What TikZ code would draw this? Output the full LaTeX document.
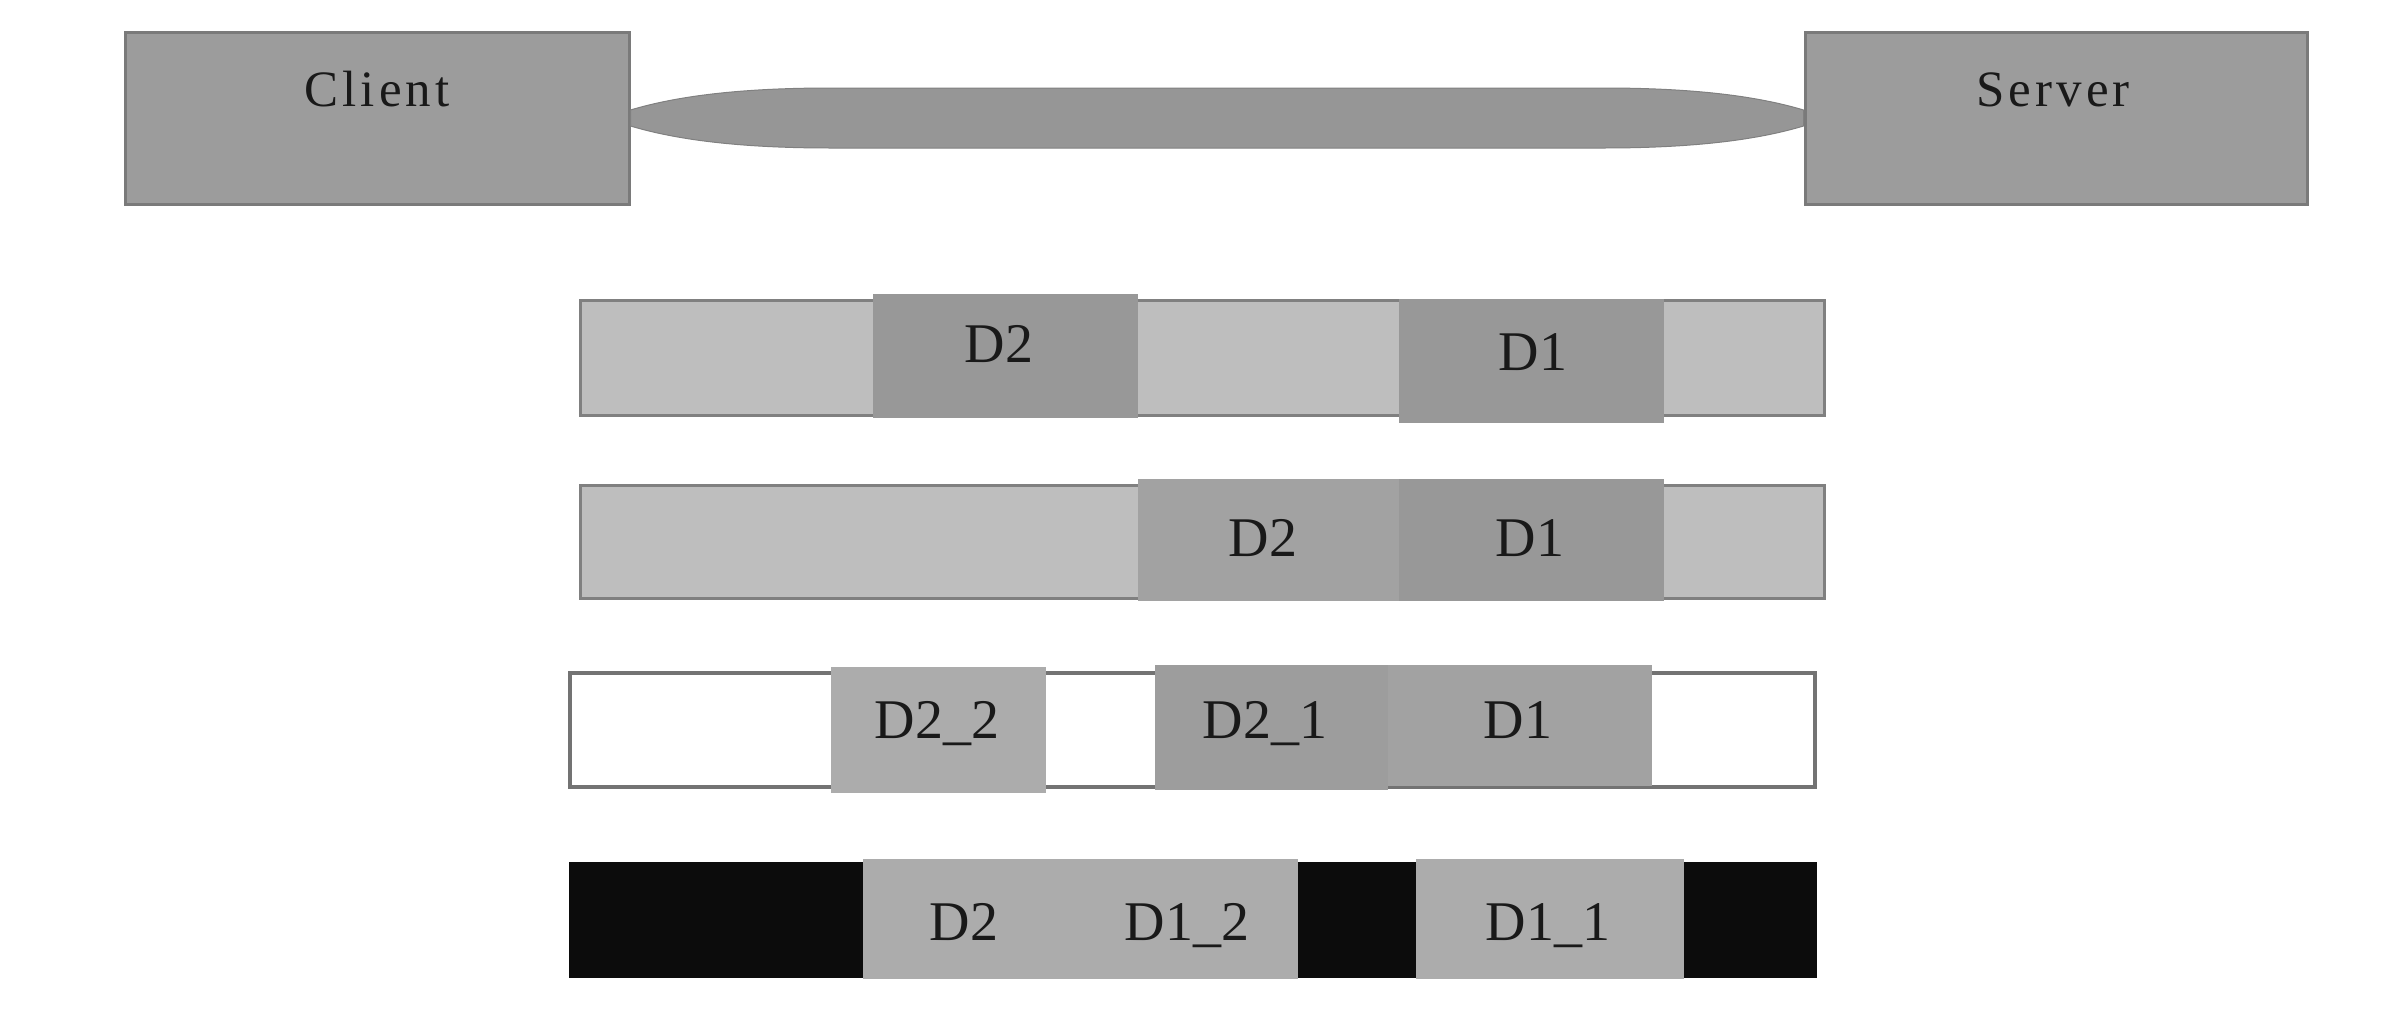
\documentclass[tikz,border=0pt]{standalone}
\usepackage{fontspec}
\setmainfont{Liberation Serif}
\newfontfamily\spacedfont[LetterSpace=8]{Liberation Serif}
\usetikzlibrary{calc}
\definecolor{hostfill}{RGB}{156,156,156}
\definecolor{hostline}{RGB}{122,122,122}
\definecolor{lensfill}{RGB}{150,150,150}
\definecolor{barline}{RGB}{128,128,128}
\definecolor{lightcell}{RGB}{190,190,190}
\definecolor{darkcell}{RGB}{152,152,152}
\definecolor{midcell}{RGB}{162,162,162}
\definecolor{palecell}{RGB}{172,172,172}
\definecolor{blackcell}{RGB}{12,12,12}
\definecolor{txt}{RGB}{25,25,25}
\tikzset{
  host/.style={draw=hostline, line width=3pt, fill=hostfill, inner sep=0pt},
  bar/.style={draw=barline, line width=3pt, inner sep=0pt},
  cell/.style={inner sep=0pt, draw=none},
  lbl/.style={anchor=base, inner sep=0pt, text=txt, font=\fontsize{56}{60}\selectfont},
  hostlbl/.style={anchor=base, inner sep=0pt, text=txt, font=\spacedfont\fontsize{51}{55}\selectfont},
  conn/.style={fill=lensfill, draw=hostline!80!lensfill, line width=1pt}
}
\begin{document}
\begin{tikzpicture}[x=1pt,y=-1pt]
\useasboundingbox (0,0) rectangle (2392,1020);
% hosts
\node[host, minimum width=504pt, minimum height=172pt] (client) at (377,118) {};
\node[host, minimum width=502pt, minimum height=172pt] (server) at (2056,118) {};
\node[hostlbl] (clientlbl) at (377,106) {Client};
\node[hostlbl] (serverlbl) at (2053,106) {Server};
% lens connector
\path[conn] ($(client.east)+(0,8)$) -- ($(client.east)+(0,-8)$)
  .. controls ($(client.east)+(40,-20)$) and ($(client.east)+(100,-30)$) .. ($(client.east)+(200,-30)$)
  -- ($(server.west)+(-200,-30)$)
  .. controls ($(server.west)+(-100,-30)$) and ($(server.west)+(-40,-20)$) .. ($(server.west)+(0,-8)$)
  -- ($(server.west)+(0,8)$)
  .. controls ($(server.west)+(-40,20)$) and ($(server.west)+(-100,30)$) .. ($(server.west)+(-200,30)$)
  -- ($(client.east)+(200,30)$)
  .. controls ($(client.east)+(100,30)$) and ($(client.east)+(40,20)$) .. cycle;

% row 1
\node[bar, fill=lightcell, minimum width=1244pt, minimum height=115pt] (bara) at (1202,357.5) {};
\node[cell, fill=darkcell, minimum width=265pt, minimum height=124pt] (adtwo) at (1005.5,356) {};
\node[cell, fill=darkcell, minimum width=265pt, minimum height=124pt] (adone) at (1531.5,361) {};
\node[lbl] (ladtwo) at (999,362) {D2};
\node[lbl] (ladone) at (1533,370) {D1};

% row 2
\node[bar, fill=lightcell, minimum width=1244pt, minimum height=113pt] (barb) at (1202,541.5) {};
\node[cell, fill=midcell, minimum width=261pt, minimum height=122pt] (bdtwo) at (1268.5,540) {};
\node[cell, fill=darkcell, minimum width=265pt, minimum height=122pt] (bdone) at (1531.5,540) {};
\node[lbl] (lbdtwo) at (1263,556) {D2};
\node[lbl] (lbdone) at (1530,556) {D1};

% row 3
\node[bar, draw=barline!90!black, line width=4pt, fill=white, minimum width=1245pt, minimum height=114pt] (barc) at (1192.5,730) {};
\node[cell, fill=palecell, minimum width=215pt, minimum height=126pt] (cdtt) at (938.5,730) {};
\node[cell, fill=darkcell!95!white, minimum width=233pt, minimum height=125pt] (cdto) at (1271.5,727.5) {};
\node[cell, fill=midcell, minimum width=264pt, minimum height=121pt] (cdone) at (1520,725.5) {};
\node[lbl] (lcdtt) at (937,738) {D2\_2};
\node[lbl] (lcdto) at (1265,738) {D2\_1};
\node[lbl] (lcdone) at (1518,738) {D1};

% row 4
\node[bar, draw=blackcell, fill=blackcell, minimum width=1245pt, minimum height=113pt] (bard) at (1192.5,919.5) {};
\node[cell, fill=palecell, minimum width=202pt, minimum height=120pt] (ddtwo) at (964,919) {};
\node[cell, fill=palecell, minimum width=233pt, minimum height=120pt] (ddot) at (1181,919) {};
\node[cell, fill=palecell, minimum width=268pt, minimum height=120pt] (ddoo) at (1550,919) {};
\node[lbl] (lddtwo) at (964,940) {D2};
\node[lbl] (lddot) at (1187,940) {D1\_2};
\node[lbl] (lddoo) at (1548,940) {D1\_1};
\end{tikzpicture}
\end{document}
